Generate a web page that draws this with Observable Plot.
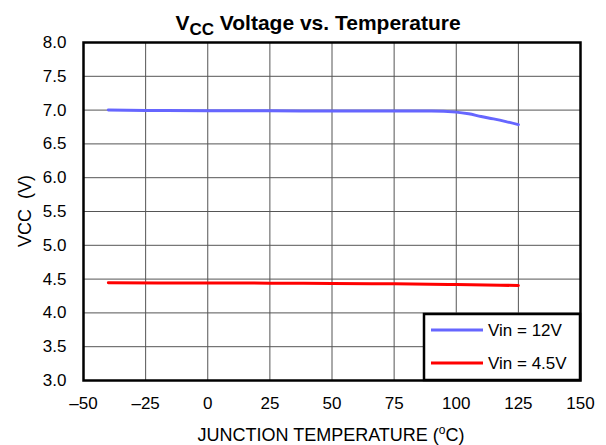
<!DOCTYPE html>
<html>
<head>
<meta charset="utf-8">
<script src="https://cdn.jsdelivr.net/npm/d3@7"></script>
<script src="https://cdn.jsdelivr.net/npm/@observablehq/plot@0.6"></script>
<style>
  html, body { margin: 0; padding: 0; background: #fff; }
  #chart { width: 606px; height: 445px; }
</style>
</head>
<body>
<div id="chart"></div>
<script>
// ---- data ----
const temps12 = [-40, -25, 0, 25, 50, 75, 90, 100, 105, 110, 115, 120, 125];
const vcc12   = [7.00, 6.995, 6.99, 6.99, 6.985, 6.985, 6.985, 6.97, 6.945, 6.905, 6.87, 6.83, 6.785];
const temps45 = [-40, 0, 25, 50, 75, 100, 125];
const vcc45   = [4.445, 4.442, 4.44, 4.435, 4.43, 4.42, 4.405];
const xTicks = [-50, -25, 0, 25, 50, 75, 100, 125, 150];
const yTicks = [3.0, 3.5, 4.0, 4.5, 5.0, 5.5, 6.0, 6.5, 7.0, 7.5, 8.0];
const seriesNames = ["Vin = 12V", "Vin = 4.5V"];
const seriesColors = ["#6666ff", "#ff0000"];
const titleMain = "V";
const titleSub = "CC";
const titleRest = " Voltage vs. Temperature";
const xLabel = "JUNCTION TEMPERATURE (";
const yLabel = "VCC  (V)";

const data = [
  ...temps12.map((t, i) => ({t, v: vcc12[i], s: seriesNames[0]})),
  ...temps45.map((t, i) => ({t, v: vcc45[i], s: seriesNames[1]}))
];

const font = "'Liberation Sans', Arial, Helvetica, sans-serif";
const mL = 83, mR = 26, mT = 42, mB = 65, W = 606, H = 445;

const plot = Plot.plot({
  width: W,
  height: H,
  marginLeft: mL,
  marginRight: mR,
  marginTop: mT,
  marginBottom: mB,
  style: {fontFamily: font, fontSize: "17px", color: "#000", background: "#fff"},
  x: {domain: [-50, 150]},
  y: {domain: [3, 8]},
  color: {domain: seriesNames, range: seriesColors},
  marks: [
    Plot.gridX(xTicks, {stroke: "#555", strokeOpacity: 1, strokeWidth: 1}),
    Plot.gridY(yTicks, {stroke: "#555", strokeOpacity: 1, strokeWidth: 1}),
    Plot.axisX(xTicks, {tickSize: 0, tickPadding: 16, label: null, tickFormat: d => d < 0 ? "\u2013" + Math.abs(d) : String(d), fontSize: 17}),
    Plot.axisY(yTicks, {tickSize: 0, tickPadding: 17, label: null, tickFormat: d => d.toFixed(1), fontSize: 17}),
    Plot.line(data, {x: "t", y: "v", z: "s", stroke: "s", strokeWidth: 3, curve: "monotone-x"}),
    Plot.frame({stroke: "#000", strokeWidth: 2.5})
  ]
});

document.getElementById("chart").appendChild(plot);

const svg = d3.select(plot);
const pLeft = mL, pRight = W - mR, pTop = mT, pBottom = H - mB;

// Title with subscript
const title = svg.append("text")
  .attr("x", 318).attr("y", 30)
  .attr("text-anchor", "middle")
  .style("font-family", font)
  .style("font-weight", "bold")
  .style("font-size", "21px")
  .attr("fill", "#000");
title.append("tspan").text(titleMain);
title.append("tspan").attr("dy", 5).style("font-size", "17px").text(titleSub);
title.append("tspan").attr("dy", -5).text(titleRest);

// X label with superscript
const xl = svg.append("text")
  .attr("x", 331).attr("y", 441)
  .attr("text-anchor", "middle")
  .style("font-family", font).style("font-size", "18px")
  .attr("fill", "#000");
xl.append("tspan").text(xLabel);
xl.append("tspan").attr("dy", -7).style("font-size", "12px").text("o");
xl.append("tspan").attr("dy", 7).text("C)");

// Y label
svg.append("text")
  .attr("transform", `translate(31, ${(pTop + pBottom) / 2}) rotate(-90)`)
  .attr("text-anchor", "middle")
  .style("font-family", font).style("font-size", "18px")
  .attr("fill", "#000")
  .text(yLabel);

// Legend
const lg = svg.append("g");
const lx0 = 424, ly0 = 314, lw = pRight - lx0, lh = pBottom - ly0;
lg.append("rect").attr("x", lx0).attr("y", ly0).attr("width", lw).attr("height", lh)
  .attr("fill", "#fff").attr("stroke", "#000").attr("stroke-width", 2.5);
seriesNames.forEach((name, i) => {
  const yy = ly0 + 16 + i * 33;
  lg.append("line").attr("x1", lx0 + 7).attr("x2", lx0 + 59).attr("y1", yy).attr("y2", yy)
    .attr("stroke", seriesColors[i]).attr("stroke-width", 3);
  lg.append("text").attr("x", lx0 + 64).attr("y", yy).attr("dy", "0.35em")
    .attr("text-anchor", "start")
    .style("font-family", font).style("font-size", "17px").attr("fill", "#000").text(name);
});
</script>
</body>
</html>
